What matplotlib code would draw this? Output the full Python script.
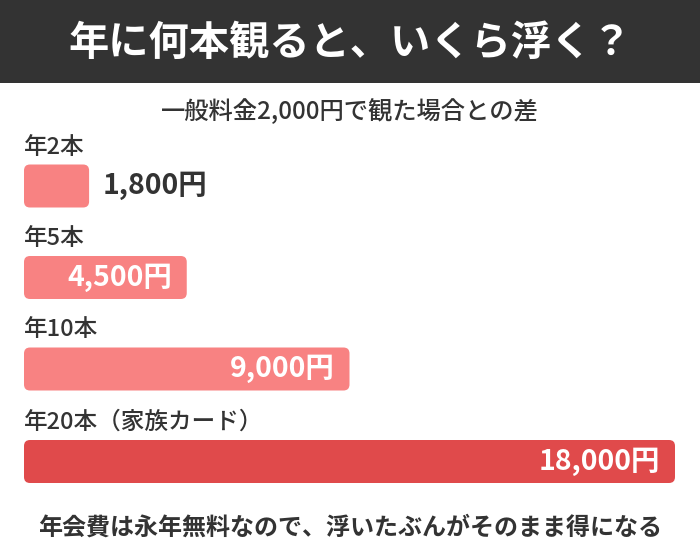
import matplotlib
matplotlib.use("Agg")
import matplotlib.pyplot as plt
from matplotlib.patches import Rectangle, FancyBboxPatch

plt.rcParams['font.family'] = ['Noto Sans CJK JP', 'DejaVu Sans']

# データ
title = "年に何本観ると、いくら浮く？"
subtitle = "一般料金2,000円で観た場合との差"
footer = "年会費は永年無料なので、浮いたぶんがそのまま得になる"
categories = ["年2本", "年5本", "年10本", "年20本（家族カード）"]
values = [1800, 4500, 9000, 18000]
value_labels = ["1,800円", "4,500円", "9,000円", "18,000円"]

DARK = "#333333"
LIGHT_RED = "#F88282"
RED = "#E04A4B"

W, H = 700, 560
fig = plt.figure(figsize=(W / 100, H / 100), dpi=100)

# 背景・テキスト用のピクセル座標軸
bg = fig.add_axes([0, 0, 1, 1])
bg.set_xlim(0, W)
bg.set_ylim(H, 0)
bg.axis("off")
bg.add_patch(Rectangle((0, 0), W, 83, color=DARK, lw=0))
bg.text(W / 2, 43, title, color="white", fontsize=29, fontweight="bold",
        ha="center", va="center")
bg.text(W / 2, 112, subtitle, color=DARK, fontsize=17.5, fontweight="medium",
        ha="center", va="center")
bg.text(W / 2, 528, footer, color=DARK, fontsize=17.3, fontweight="bold",
        ha="center", va="center")

# 棒グラフ用の軸 (x: 金額, y: ピクセル)
x0, x1 = 24, 675
ax = fig.add_axes([x0 / W, 0, (x1 - x0) / W, 1])
ax.set_xlim(0, max(values))
ax.set_ylim(H, 0)
ax.axis("off")

centers = [186, 277.5, 369, 461.5]
bar_h = 43
colors = [LIGHT_RED] * 3 + [RED]
px = max(values) / (x1 - x0)  # 1ピクセルあたりの金額
radius_px = 6

bars = ax.barh(centers, values, height=bar_h, color=colors)
for rect, c in zip(bars, colors):
    x, y = rect.get_x(), rect.get_y()
    w, h = rect.get_width(), rect.get_height()
    rect.remove()
    ax.add_patch(FancyBboxPatch((x, y), w, h,
                                boxstyle=f"round,pad=0,rounding_size={radius_px * px}",
                                mutation_aspect=1 / px, fc=c, ec="none"))

for cy, cat, v, lab in zip(centers, categories, values, value_labels):
    ax.text(0, cy - 39, cat, color=DARK, fontsize=17, fontweight="medium",
            ha="left", va="center")
    if v < 3000:
        ax.text(v + 14 * px, cy, lab, color=DARK, fontsize=20.5, fontweight="bold",
                ha="left", va="center")
    else:
        ax.text(v - 15 * px, cy, lab, color="white", fontsize=20.5, fontweight="bold",
                ha="right", va="center")

fig.savefig("out.png", dpi=100)
